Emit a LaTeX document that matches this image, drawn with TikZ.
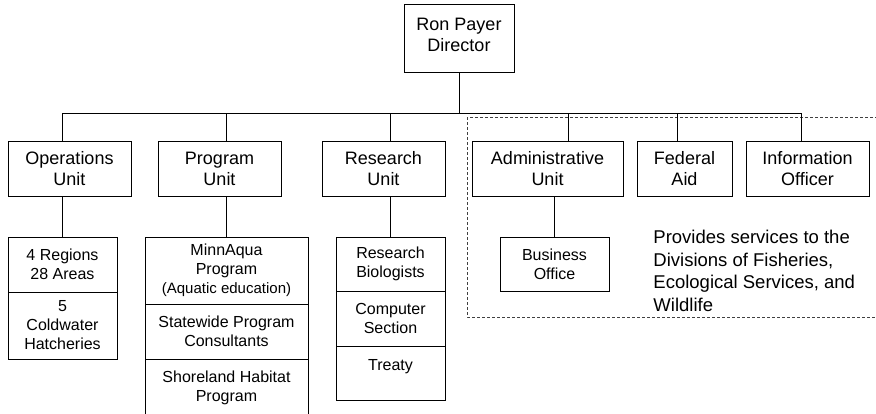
\documentclass[tikz,border=0pt]{standalone}
\usepackage{fontspec}
\setmainfont{Liberation Sans}
\usetikzlibrary{calc}

\begin{document}
\begin{tikzpicture}[x=1pt,y=-1pt,line width=0.9pt,
	unit/.style={draw,rectangle,inner sep=0pt,align=center,minimum height=55pt,font=\fontsize{18}{21}\selectfont},
	cell/.style={draw,rectangle,inner sep=0pt,align=center,font=\fontsize{16}{19}\selectfont},
	grp/.style={draw=black!75,dash pattern=on 3pt off 2pt,line width=0.8pt}]
	\useasboundingbox (0,0) rectangle (876,413);
	\clip (0,0) rectangle (876,413);

		\node[unit,minimum width=110pt,minimum height=68pt,
			label={[anchor=north,align=center,yshift=-11pt,font=\fontsize{18}{21}\selectfont]north:Ron Payer\\Director}] (dir) at (459,38) {};

		\node[unit,minimum width=123pt] (ops) at (69.5,168.5) {Operations\\Unit};
		\node[unit,minimum width=123pt] (prog) at (219.5,168.5) {Program\\Unit};
		\node[unit,minimum width=123pt] (res) at (383.5,168.5) {Research\\Unit};
		\node[unit,minimum width=151pt] (adm) at (547.5,168.5) {Administrative\\Unit};
		\node[unit,minimum width=95pt] (fed) at (684.5,168.5) {Federal\\Aid};
		\node[unit,minimum width=123pt] (info) at (807.5,168.5) {Information\\Officer};

		\node[cell,minimum width=109pt,minimum height=55pt] (opsA) at (62.5,264.5) {4 Regions\\28 Areas};
		\node[cell,minimum width=109pt,minimum height=67pt] (opsB) at (62.5,325.5) {5\\Coldwater\\Hatcheries};

		\node[cell,minimum width=163pt,minimum height=67pt] (progA) at (226.5,270.5) {MinnAqua\\Program\\{\fontsize{15}{19}\selectfont(Aquatic education)}};
		\node[cell,minimum width=163pt,minimum height=55pt] (progB) at (226.5,331.5) {Statewide Program\\Consultants};
		\node[cell,minimum width=163pt,minimum height=57pt] (progC) at (226.5,387.5) {Shoreland Habitat\\Program};

		\node[cell,minimum width=109pt,minimum height=54pt] (resA) at (390.5,264) {Research\\Biologists};
		\node[cell,minimum width=109pt,minimum height=55pt] (resB) at (390.5,318.5) {Computer\\Section};
		\node[cell,minimum width=109pt,minimum height=54pt,
			label={[anchor=north,yshift=-10pt,font=\fontsize{16}{19}\selectfont]north:Treaty}] (resC) at (390.5,373) {};

		\node[cell,minimum width=109pt,minimum height=54pt] (biz) at (554.5,264) {Business\\Office};

		\node[anchor=north west,inner sep=0pt,align=left,font=\fontsize{18.5}{22.5}\selectfont] (note) at (653,230) {Provides services to the\\Divisions of Fisheries,\\Ecological Services, and\\Wildlife};

		\draw[grp] (467,117) rectangle (880,317);

		\coordinate (busL) at (63,113);
		\coordinate (busR) at (801,113);
		\draw (dir) -- (dir |- busL);
		\draw (busL) -- (busR);

		\draw (opsA.north |- busL) -- (opsA.north |- ops.north);
		\draw (opsA.north |- ops.south) -- (opsA.north);
		\draw (progA.north |- busL) -- (progA.north |- prog.north);
		\draw (progA.north |- prog.south) -- (progA.north);
		\draw (resA.north |- busL) -- (resA.north |- res.north);
		\draw (resA.north |- res.south) -- (resA.north);
		\draw (568,113) -- (adm.north -| 568,0);
		\draw (biz.north |- adm.south) -- (biz.north);
		\draw (677,113) -- (fed.north -| 677,0);
		\draw (busR) -- (busR |- info.north);
\end{tikzpicture}
\end{document}
